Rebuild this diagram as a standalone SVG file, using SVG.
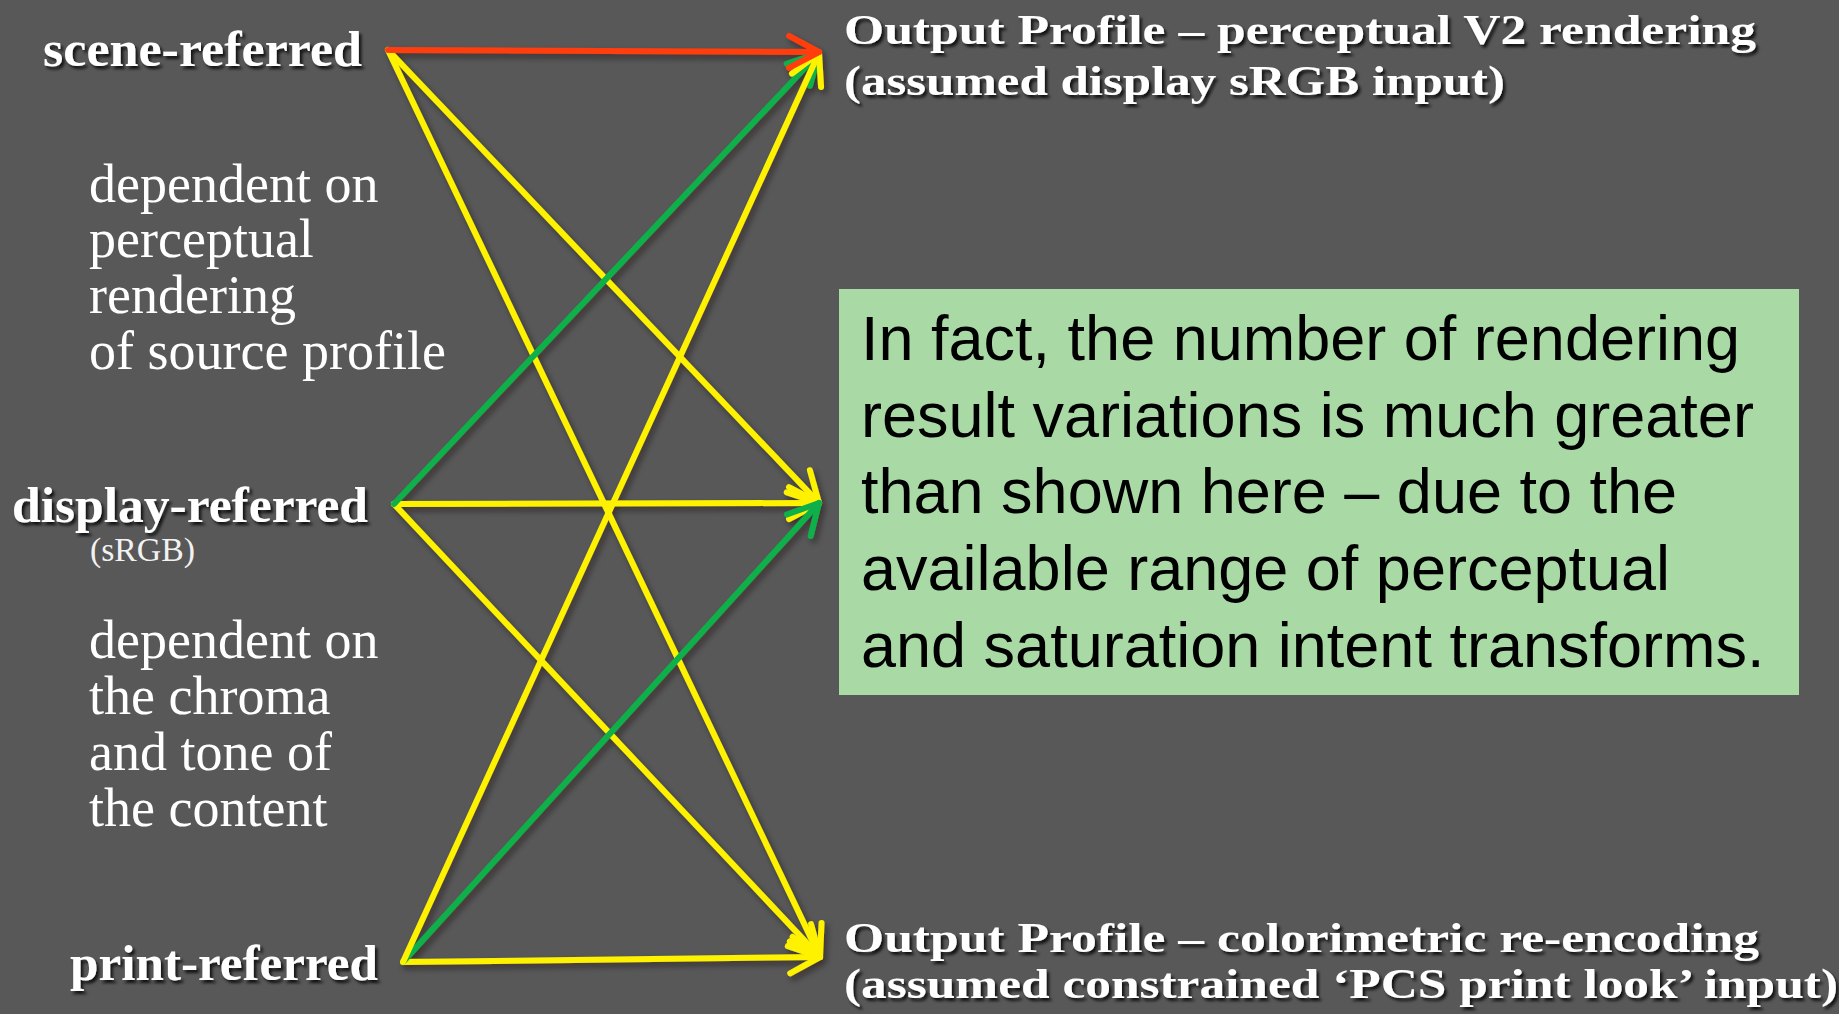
<svg xmlns="http://www.w3.org/2000/svg" width="1839" height="1014" viewBox="0 0 1839 1014">
  <defs>
    <style>
      .lbl { font-family: "Liberation Serif", "Times New Roman", serif; font-weight: bold; font-size: 50px; fill: #ffffff; filter: url(#tshadow); }
      .out { font-family: "Liberation Serif", "Times New Roman", serif; font-weight: bold; font-size: 43px; fill: #ffffff; filter: url(#tshadow); }
      .note { font-family: "Liberation Serif", "Times New Roman", serif; font-size: 54px; fill: #ffffff; }
      .small { font-family: "Liberation Serif", "Times New Roman", serif; font-size: 33px; fill: #f2f2f2; }
      .box { font-family: "Liberation Sans", Arial, sans-serif; font-size: 63px; fill: #000000; }
      .c { fill: none; stroke-width: 6; stroke-linecap: round; }
      .y { stroke: #FFF200; marker-end: url(#ah-y); }
      .g { stroke: #0FB04A; marker-end: url(#ah-g); }
      .r { stroke: #FF3D0A; marker-end: url(#ah-r); }
    </style>
    <filter id="tshadow" x="-5%" y="-30%" width="110%" height="160%">
      <feDropShadow dx="2.5" dy="3" stdDeviation="1.5" flood-color="#000000" flood-opacity="0.8"/>
    </filter>
    <filter id="lshadow" x="-10%" y="-10%" width="120%" height="120%">
      <feDropShadow dx="3" dy="4" stdDeviation="3" flood-color="#1a0d00" flood-opacity="0.45"/>
    </filter>
    <marker id="ah-y" markerUnits="userSpaceOnUse" orient="auto" overflow="visible" refX="0" refY="0" markerWidth="1" markerHeight="1">
      <path d="M-30,-16 L0,0 L-30,16" fill="none" stroke="#FFF200" stroke-width="6" stroke-linecap="round" stroke-linejoin="round"/>
    </marker>
    <marker id="ah-g" markerUnits="userSpaceOnUse" orient="auto" overflow="visible" refX="0" refY="0" markerWidth="1" markerHeight="1">
      <path d="M-30,-16 L0,0 L-30,16" fill="none" stroke="#0FB04A" stroke-width="6" stroke-linecap="round" stroke-linejoin="round"/>
    </marker>
    <marker id="ah-r" markerUnits="userSpaceOnUse" orient="auto" overflow="visible" refX="0" refY="0" markerWidth="1" markerHeight="1">
      <path d="M-30,-16 L0,0 L-30,16" fill="none" stroke="#FF3D0A" stroke-width="6" stroke-linecap="round" stroke-linejoin="round"/>
    </marker>
  </defs>

  <rect x="0" y="0" width="1839" height="1014" fill="#585858"/>

  <g id="connectors" filter="url(#lshadow)">
    <line class="c y" x1="388" y1="50" x2="820" y2="957"/>
    <line class="c y" x1="394" y1="504" x2="820" y2="957"/>
    <line class="c y" x1="403" y1="962" x2="820" y2="957"/>
    <line class="c y" x1="394" y1="504" x2="819" y2="503"/>
    <line class="c y" x1="388" y1="50" x2="819" y2="503"/>
    <line class="c g" x1="403" y1="962" x2="819" y2="503"/>
    <line class="c g" x1="394" y1="504" x2="819" y2="53"/>
    <line class="c y" x1="403" y1="962" x2="819" y2="53"/>
    <line class="c r" x1="388" y1="50" x2="819" y2="52"/>
  </g>

  <g id="scene-referred">
    <text class="lbl" x="43" y="66" textLength="319" lengthAdjust="spacingAndGlyphs">scene-referred</text>
  </g>
  <g id="display-referred">
    <text class="lbl" x="12" y="522" textLength="356" lengthAdjust="spacingAndGlyphs">display-referred</text>
    <text class="small" x="90" y="561" textLength="105" lengthAdjust="spacingAndGlyphs">(sRGB)</text>
  </g>
  <g id="print-referred">
    <text class="lbl" x="70" y="980" textLength="308" lengthAdjust="spacingAndGlyphs">print-referred</text>
  </g>

  <g id="note-perceptual">
    <text class="note" x="89" y="202">dependent on</text>
    <text class="note" x="89" y="257">perceptual</text>
    <text class="note" x="89" y="313">rendering</text>
    <text class="note" x="89" y="369">of source profile</text>
  </g>
  <g id="note-content">
    <text class="note" x="89" y="658">dependent on</text>
    <text class="note" x="89" y="714">the chroma</text>
    <text class="note" x="89" y="770">and tone of</text>
    <text class="note" x="89" y="826">the content</text>
  </g>

  <g id="output-perceptual">
    <text class="out" x="844" y="44" textLength="912" lengthAdjust="spacingAndGlyphs">Output Profile – perceptual V2 rendering</text>
    <text class="out" x="844" y="95" textLength="661" lengthAdjust="spacingAndGlyphs">(assumed display sRGB input)</text>
  </g>
  <g id="output-colorimetric">
    <text class="out" x="844" y="952" textLength="915" lengthAdjust="spacingAndGlyphs">Output Profile – colorimetric re-encoding</text>
    <text class="out" x="844" y="998" textLength="994" lengthAdjust="spacingAndGlyphs">(assumed constrained ‘PCS print look’ input)</text>
  </g>

  <g id="info-box">
    <rect x="839" y="289" width="960" height="406" fill="#A9D9A4"/>
    <text class="box" x="861" y="360">In fact, the number of rendering</text>
    <text class="box" x="861" y="437">result variations is much greater</text>
    <text class="box" x="861" y="513">than shown here – due to the</text>
    <text class="box" x="861" y="590">available range of perceptual</text>
    <text class="box" x="861" y="667">and saturation intent transforms.</text>
  </g>
</svg>
